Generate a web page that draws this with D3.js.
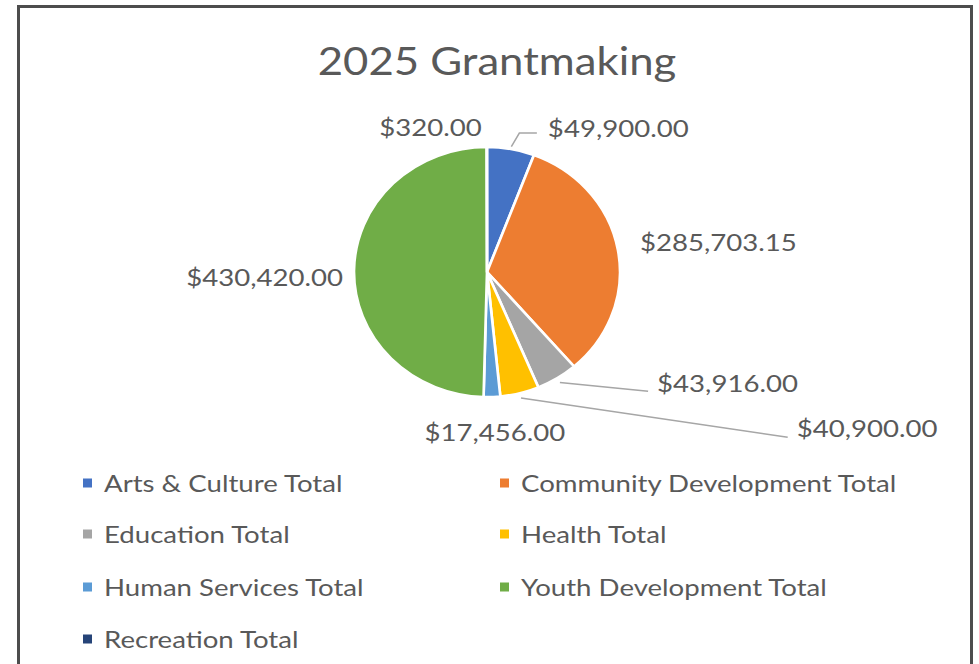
<!DOCTYPE html>
<html>
<head>
<meta charset="utf-8">
<script src="https://cdn.jsdelivr.net/npm/d3@7"></script>
<style>
  html, body { margin: 0; padding: 0; background: #fff; }
  svg { display: block; }
  text { font-family: Lato, "Open Sans", sans-serif; fill: #595959; }
</style>
</head>
<body>
<svg id="chart" width="979" height="664"></svg>
<script>
// ---- data ----
const categories = [
  "Arts & Culture Total",
  "Community Development Total",
  "Education Total",
  "Health Total",
  "Human Services Total",
  "Youth Development Total",
  "Recreation Total"
];
const values = [49900.00, 285703.15, 43916.00, 40900.00, 17456.00, 430420.00, 320.00];
const colors = ["#4472C4", "#ED7D31", "#A5A5A5", "#FFC000", "#5B9BD5", "#70AD47", "#264478"];
const title = "2025 Grantmaking";

// ---- layout ----
const W = 979, H = 664;
const cx = 487, cy = 272, R = 125, sx = 1.064;
const TX = 1.15; // horizontal text stretch
// label placement relative to slice outer point at mid-angle: [dx, dy, anchor, leader]
const labelLayout = [
  [37, -21, "start", "elbow"],
  [22, -8, "start", null],
  [100, 4, "start", "line"],
  [277, 35, "start", "line"],
  [3, 35, "middle", null],
  [-11, 6, "end", null],
  [-5, -20, "end", null]
];

const svg = d3.select("#chart");

// frame
svg.append("rect")
  .attr("x", 18.5).attr("y", 6.5)
  .attr("width", 953).attr("height", 700)
  .attr("fill", "none").attr("stroke", "#4d4d4d").attr("stroke-width", 3);

function stretchedText(parent, x, y, str, size, anchor) {
  return parent.append("text")
    .attr("transform", `translate(${x},${y}) scale(${TX},1)`)
    .attr("text-anchor", anchor || "start")
    .attr("dominant-baseline", "central")
    .style("font-size", size + "px")
    .text(str);
}

// title
stretchedText(svg, 497, 61, title, 38, "middle");

const fmt = v => "$" + d3.format(",.2f")(v);

const data = categories.map((c, i) => ({ cat: c, value: values[i], color: colors[i], layout: labelLayout[i] }));

const pie = d3.pie().sort(null).value(d => d.value).startAngle(0).endAngle(2 * Math.PI);
const arcs = pie(data);
const arc = d3.arc().innerRadius(0).outerRadius(R);

const g = svg.append("g").attr("transform", `translate(${cx},${cy}) scale(${sx},1)`);
g.selectAll("path").data(arcs).join("path")
  .attr("d", arc)
  .attr("fill", d => d.data.color)
  .attr("stroke", "#fff")
  .attr("stroke-width", 2.5)
  .attr("stroke-linejoin", "round");

function outerPoint(a, r) {
  return [cx + Math.sin(a) * r * sx, cy - Math.cos(a) * r];
}

const labels = svg.append("g");
arcs.forEach(d => {
  const mid = (d.startAngle + d.endAngle) / 2;
  const [px, py] = outerPoint(mid, R);
  const [dx, dy, anchor, leader] = d.data.layout;
  const tx = px + dx, ty = py + dy;
  stretchedText(labels, tx, ty, fmt(d.data.value), 24, anchor);
  if (leader === "elbow") {
    const [sx0, sy0] = outerPoint(mid, R + 2.5);
    labels.append("path")
      .attr("d", `M${sx0},${sy0} L${sx0 + 8},${ty + 5} L${tx - 11},${ty + 5}`)
      .attr("fill", "none").attr("stroke", "#a6a6a6").attr("stroke-width", 1.5);
  } else if (leader === "line") {
    const [sx0, sy0] = outerPoint(mid, R + 5);
    labels.append("path")
      .attr("d", `M${sx0},${sy0} L${tx - 9},${ty + 9}`)
      .attr("fill", "none").attr("stroke", "#a6a6a6").attr("stroke-width", 1.5);
  }
});

// legend
const legend = svg.append("g");
const colX = [83, 500], rowY = [483, 534, 587, 639];
data.forEach((d, i) => {
  const col = i % 2, row = Math.floor(i / 2);
  const x = colX[col], y = rowY[row];
  legend.append("rect")
    .attr("x", x).attr("y", y - 4.5).attr("width", 9).attr("height", 9)
    .attr("fill", d.color);
  stretchedText(legend, x + 21, y, d.cat, 24, "start");
});
</script>
</body>
</html>
